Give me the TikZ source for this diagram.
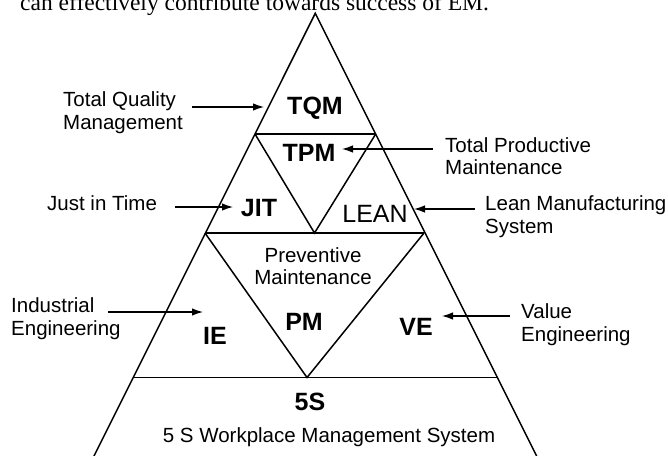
\documentclass[tikz,border=0pt]{standalone}
\usepackage{fontspec}
\setmainfont{Liberation Sans}
\newfontfamily\seriffont{Liberation Serif}
\usetikzlibrary{arrows.meta}
\tikzset{
  edge/.style={line width=1.5pt, line join=miter},
  arr/.style={line width=1.2pt, -{Latex[length=11pt,width=7.5pt]}},
  lbl/.style={inner sep=0pt, align=left, anchor=west, font=\fontsize{20.5}{22.5}\selectfont},
  big/.style={inner sep=0pt, font=\fontsize{25}{28}\selectfont\bfseries},
  mid/.style={inner sep=0pt, align=center, font=\fontsize{20.5}{22}\selectfont}
}
\begin{document}
\begin{tikzpicture}[x=1pt,y=-1pt]
\useasboundingbox (0,0) rectangle (668,455);
\clip (0,0) rectangle (668,455);
\fill[white] (0,0) rectangle (668,455);
% cropped text of the page above
\node[inner sep=0pt, anchor=base west, font=\fontsize{23.5}{26}\seriffont] (cap) at (20,10) {can effectively contribute towards success of EM.};
% pyramid geometry
\coordinate (apex) at (315.3,13.3);
\coordinate (L1) at (255,134);   \coordinate (R1) at (375.7,134);
\coordinate (L2) at (205,233);   \coordinate (R2) at (424,233);
\coordinate (L3) at (133.2,377.5); \coordinate (R3) at (497.4,377.5);
\coordinate (BL) at (90,464);    \coordinate (BR) at (540.6,464);
\coordinate (V1) at (314.5,233);
\coordinate (V2) at (307,377.5);
\draw[edge] (BL) -- (apex) -- (BR);
\draw[edge] (L1) -- (R1);
\draw[edge] (L2) -- (R2);
\draw[edge] (L3) -- (R3);
\draw[edge] (L1) -- (V1) -- (R1);
\draw[edge] (L2) -- (V2) -- (R2);
% region labels
\node[big] (tqm) at (315,108) {TQM};
\node[big] (tpm) at (309,153) {TPM};
\node[big] (jit) at (259,208) {JIT};
\node[big, font=\fontsize{25}{28}\selectfont] (lean) at (375,214) {LEAN};
\node[mid] (pmtxt) at (313,266) {Preventive\\Maintenance};
\node[big] (pm) at (304,322) {PM};
\node[big] (ie) at (215,336) {IE};
\node[big] (ve) at (416,327) {VE};
\node[big] (fives) at (310,402) {5S};
\node[mid] (fivestxt) at (329,437) {5 S Workplace Management System};
% side labels
\node[lbl] (tqml) at (63,112.5) {Total Quality\\Management};
\node[lbl] (tpml) at (445,156) {Total Productive\\Maintenance};
\node[lbl] (jitl) at (47,203) {Just in Time};
\node[lbl] (leanl) at (485,216.5) {Lean Manufacturing\\System};
\node[lbl] (iel) at (11,318.5) {Industrial\\Engineering};
\node[lbl] (vel) at (521,324.5) {Value\\Engineering};
% arrow ends
\coordinate (tqmA) at (192,107);  \coordinate (tqmB) at (264,107);
\coordinate (tpmA) at (433,149);  \coordinate (tpmB) at (342,149);
\coordinate (jitA) at (175,207);  \coordinate (jitB) at (233,207);
\coordinate (leanA) at (475,209); \coordinate (leanB) at (414,209);
\coordinate (ieA) at (108,312);   \coordinate (ieB) at (203,312);
\coordinate (veA) at (510,316);   \coordinate (veB) at (442,316);
\draw[arr] (tqmA) -- (tqmB);
\draw[arr] (tpmA) -- (tpmB);
\draw[arr] (jitA) -- (jitB);
\draw[arr] (leanA) -- (leanB);
\draw[arr] (ieA) -- (ieB);
\draw[arr] (veA) -- (veB);
\end{tikzpicture}
\end{document}
